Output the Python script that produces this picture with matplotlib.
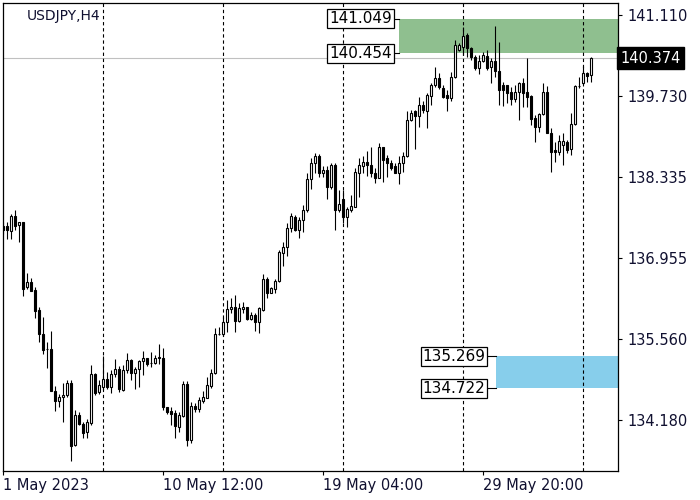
import numpy as np
import matplotlib.pyplot as plt
from matplotlib.patches import Rectangle

# USDJPY H4 candles
opens = [137.50, 137.50, 137.42, 137.67, 137.51, 137.57, 136.45, 136.54, 136.41, 136.06,
         135.66, 135.39, 135.39, 134.68, 134.51, 134.57, 134.60, 134.82, 133.75, 134.26,
         134.12, 133.97, 134.13, 134.96, 134.66, 134.75, 134.89, 134.75, 134.97, 135.05,
         134.69, 135.04, 135.21, 134.99, 135.05, 135.19, 135.25, 135.16, 135.15, 135.24,
         135.25, 134.40, 134.33, 134.30, 134.06, 134.25, 134.79, 133.83, 134.42, 134.37,
         134.51, 134.56, 134.77, 134.98, 135.66, 135.65, 135.86, 136.08, 136.11, 135.88,
         136.08, 136.11, 135.91, 135.98, 135.85, 136.06, 136.59, 136.36, 136.43, 136.56,
         137.04, 137.14, 137.46, 137.65, 137.44, 137.60, 137.77, 138.30, 138.57, 138.70,
         138.40, 138.46, 138.17, 138.54, 137.77, 137.97, 137.66, 137.77, 137.83, 138.40,
         138.53, 138.59, 138.54, 138.41, 138.33, 138.85, 138.66, 138.57, 138.53, 138.41,
         138.57, 138.69, 139.31, 139.46, 139.38, 139.57, 139.47, 139.72, 139.91, 140.04,
         139.87, 139.74, 139.69, 140.05, 140.52, 140.57, 140.77, 140.54, 140.40, 140.20,
         140.32, 140.41, 140.22, 140.32, 140.16, 139.91, 139.91, 139.80, 139.67, 139.79,
         139.95, 139.80, 139.72, 139.34, 139.19, 139.41, 139.80, 139.10, 138.80, 138.77,
         138.89, 138.94, 138.81, 139.25, 139.89, 139.94, 140.12, 140.08]
highs = [137.57, 137.57, 137.71, 137.77, 137.57, 137.57, 136.69, 136.61, 136.45, 136.12,
         135.95, 135.52, 135.70, 134.76, 134.62, 134.82, 134.87, 134.87, 134.35, 134.32,
         134.15, 134.20, 135.13, 134.99, 134.87, 135.28, 135.01, 135.04, 135.22, 135.11,
         135.12, 135.32, 135.23, 135.09, 135.21, 135.36, 135.25, 135.35, 135.29, 135.48,
         135.41, 134.41, 134.40, 134.35, 134.32, 134.85, 134.85, 134.49, 134.47, 134.58,
         134.67, 134.91, 135.05, 135.75, 135.77, 135.95, 136.23, 136.26, 136.32, 136.19,
         136.20, 136.12, 136.03, 136.01, 136.12, 136.68, 136.62, 136.46, 136.59, 137.09,
         137.23, 137.55, 137.72, 137.69, 137.65, 137.86, 138.40, 138.66, 138.75, 138.73,
         138.52, 138.52, 138.57, 138.57, 138.12, 138.12, 137.83, 138.03, 138.49, 138.67,
         138.69, 138.79, 138.86, 138.49, 138.92, 138.86, 138.72, 138.63, 138.57, 138.69,
         138.77, 139.46, 139.49, 139.49, 139.71, 139.64, 139.77, 139.94, 140.22, 140.11,
         139.91, 139.83, 140.14, 140.68, 140.63, 140.91, 140.80, 140.57, 140.43, 140.43,
         140.47, 140.51, 140.37, 140.92, 140.65, 139.97, 139.91, 139.88, 139.91, 139.97,
         140.04, 140.37, 139.74, 139.40, 139.43, 139.95, 139.90, 139.17, 138.94, 139.06,
         139.09, 138.97, 139.43, 139.91, 140.05, 140.23, 140.14, 140.39]
lows = [137.36, 137.28, 137.28, 137.43, 137.23, 136.31, 136.43, 136.38, 135.92, 135.52,
        135.31, 135.07, 134.67, 134.34, 134.40, 134.14, 134.58, 133.48, 133.74, 134.09,
        133.88, 133.88, 134.10, 134.61, 134.63, 134.69, 134.71, 134.64, 134.92, 134.66,
        134.67, 134.98, 134.87, 134.71, 134.75, 134.95, 135.11, 135.09, 135.14, 135.14,
        134.35, 134.28, 134.09, 133.88, 133.98, 134.24, 133.74, 133.78, 134.32, 134.32,
        134.48, 134.55, 134.72, 134.97, 135.63, 135.61, 135.69, 136.02, 135.69, 135.86,
        136.02, 135.90, 135.89, 135.70, 135.67, 136.05, 136.26, 136.35, 136.35, 136.55,
        136.82, 136.98, 137.40, 137.42, 137.29, 137.39, 137.74, 138.13, 138.40, 138.34,
        138.34, 137.96, 138.13, 137.43, 137.74, 137.55, 137.49, 137.74, 137.82, 138.00,
        138.40, 138.36, 138.34, 138.23, 138.32, 138.26, 138.34, 138.46, 138.40, 138.22,
        138.43, 138.68, 139.29, 138.81, 139.20, 139.43, 139.17, 139.57, 139.88, 139.84,
        139.69, 139.47, 139.64, 140.04, 140.50, 140.43, 140.40, 140.34, 140.17, 140.10,
        140.30, 140.17, 139.95, 140.05, 139.57, 139.55, 139.61, 139.57, 139.63, 139.31,
        139.53, 139.53, 139.23, 138.94, 139.11, 139.40, 139.09, 138.43, 138.60, 138.72,
        138.54, 138.75, 138.72, 139.23, 139.86, 139.93, 139.97, 139.97]
closes = [137.44, 137.43, 137.67, 137.50, 137.57, 136.43, 136.54, 136.39, 136.05, 135.66,
          135.38, 135.40, 134.68, 134.51, 134.57, 134.61, 134.82, 133.74, 134.26, 134.12,
          133.95, 134.15, 134.96, 134.65, 134.78, 134.89, 134.74, 134.97, 135.05, 134.71,
          135.04, 135.20, 134.99, 135.06, 135.19, 135.25, 135.14, 135.15, 135.24, 135.26,
          134.40, 134.32, 134.28, 134.07, 134.26, 134.79, 133.83, 134.42, 134.37, 134.52,
          134.57, 134.78, 134.98, 135.66, 135.65, 135.86, 136.08, 136.11, 135.88, 136.09,
          136.12, 135.91, 135.97, 135.85, 136.09, 136.59, 136.36, 136.44, 136.56, 137.05,
          137.14, 137.46, 137.67, 137.44, 137.60, 137.77, 138.30, 138.57, 138.70, 138.40,
          138.46, 138.17, 138.54, 137.77, 137.88, 137.66, 137.79, 137.84, 138.43, 138.54,
          138.59, 138.54, 138.40, 138.32, 138.85, 138.63, 138.57, 138.50, 138.41, 138.57,
          138.70, 139.31, 139.44, 139.38, 139.57, 139.49, 139.74, 139.91, 140.04, 139.88,
          139.71, 139.69, 140.05, 140.60, 140.60, 140.75, 140.54, 140.39, 140.20, 140.33,
          140.43, 140.20, 140.32, 140.16, 139.82, 139.82, 139.77, 139.67, 139.80, 139.95,
          139.78, 139.71, 139.33, 139.19, 139.41, 139.80, 139.10, 138.77, 138.77, 138.95,
          138.95, 138.80, 139.25, 139.90, 139.90, 140.11, 140.07, 140.374]

date_ticks = [0, 40, 80, 120]
date_labels = ['1 May 2023', '10 May 12:00', '19 May 04:00', '29 May 20:00']
grid_bars = [25, 55, 85, 115, 145]
price_ticks = [141.110, 139.730, 138.335, 136.955, 135.560, 134.180]
last_price = 140.374
green_zone = (140.454, 141.049)
blue_zone = (134.722, 135.269)

fig = plt.figure(figsize=(7, 5), dpi=100)
ax = fig.add_axes([3 / 700, 29 / 500, 615 / 700, 468 / 500])

x = np.arange(len(opens))
o = np.array(opens)
c = np.array(closes)
up = c >= o

# zones
ax.add_patch(Rectangle((98.9, green_zone[0]), 60, green_zone[1] - green_zone[0],
                       facecolor='#8fbf8f', edgecolor='none', zorder=0))
ax.add_patch(Rectangle((123.1, blue_zone[0]), 40, blue_zone[1] - blue_zone[0],
                       facecolor='#87ceeb', edgecolor='none', zorder=0))

ax.axhline(last_price, color='#c0c0c0', lw=0.8, zorder=1)
for g in grid_bars:
    ax.axvline(g, color='black', lw=0.8, linestyle=(0, (3, 2.5)), zorder=1)

# candles
ax.vlines(x, lows, highs, color='black', lw=0.8, zorder=2)
body = np.maximum(np.abs(c - o), 0.004)
ax.bar(x, body, bottom=np.minimum(o, c), width=0.55,
       color=np.where(up, 'white', 'black'), edgecolor='black', linewidth=0.8, zorder=3)

# level labels
def level_label(xr, xz, y):
    ax.plot([xr, xz], [y, y], color='black', lw=0.8, zorder=4)
    ax.text(xr - 0.25, y, f'{y:.3f}', ha='right', va='center', fontsize=11, zorder=5,
            bbox=dict(boxstyle='square,pad=0.12', fc='white', ec='black', lw=0.9))

level_label(97.4, 98.9, green_zone[1])
level_label(97.4, 98.9, green_zone[0])
level_label(120.8, 123.1, blue_zone[1])
level_label(120.8, 123.1, blue_zone[0])

ax.set_xlim(-0.075, 153.675)
ax.set_ylim(133.308, 141.316)

ax.yaxis.tick_right()
ax.set_yticks(price_ticks)
ax.set_yticklabels([f'{p:.3f}' for p in price_ticks])
ax.set_xticks(date_ticks)
ax.set_xticklabels(date_labels)
for lbl in ax.get_xticklabels():
    lbl.set_ha('left')
ax.tick_params(axis='both', length=3, width=0.8, labelsize=10.5, colors='black')
ax.tick_params(axis='y', pad=4, labelcolor='#101030')
ax.tick_params(axis='x', pad=2, labelcolor='#101030')
for s in ax.spines.values():
    s.set_linewidth(0.9)

# current price tag
ax.text(1.004, last_price, f'{last_price:.3f}', transform=ax.get_yaxis_transform(),
        ha='left', va='center', fontsize=10.5, color='white',
        bbox=dict(boxstyle='square,pad=0.25', fc='black', ec='black'))

fig.text(27 / 700, 1 - 16 / 500, 'USDJPY,H4', fontsize=10, color='#101030', va='center')

fig.savefig('out.png', dpi=100)
